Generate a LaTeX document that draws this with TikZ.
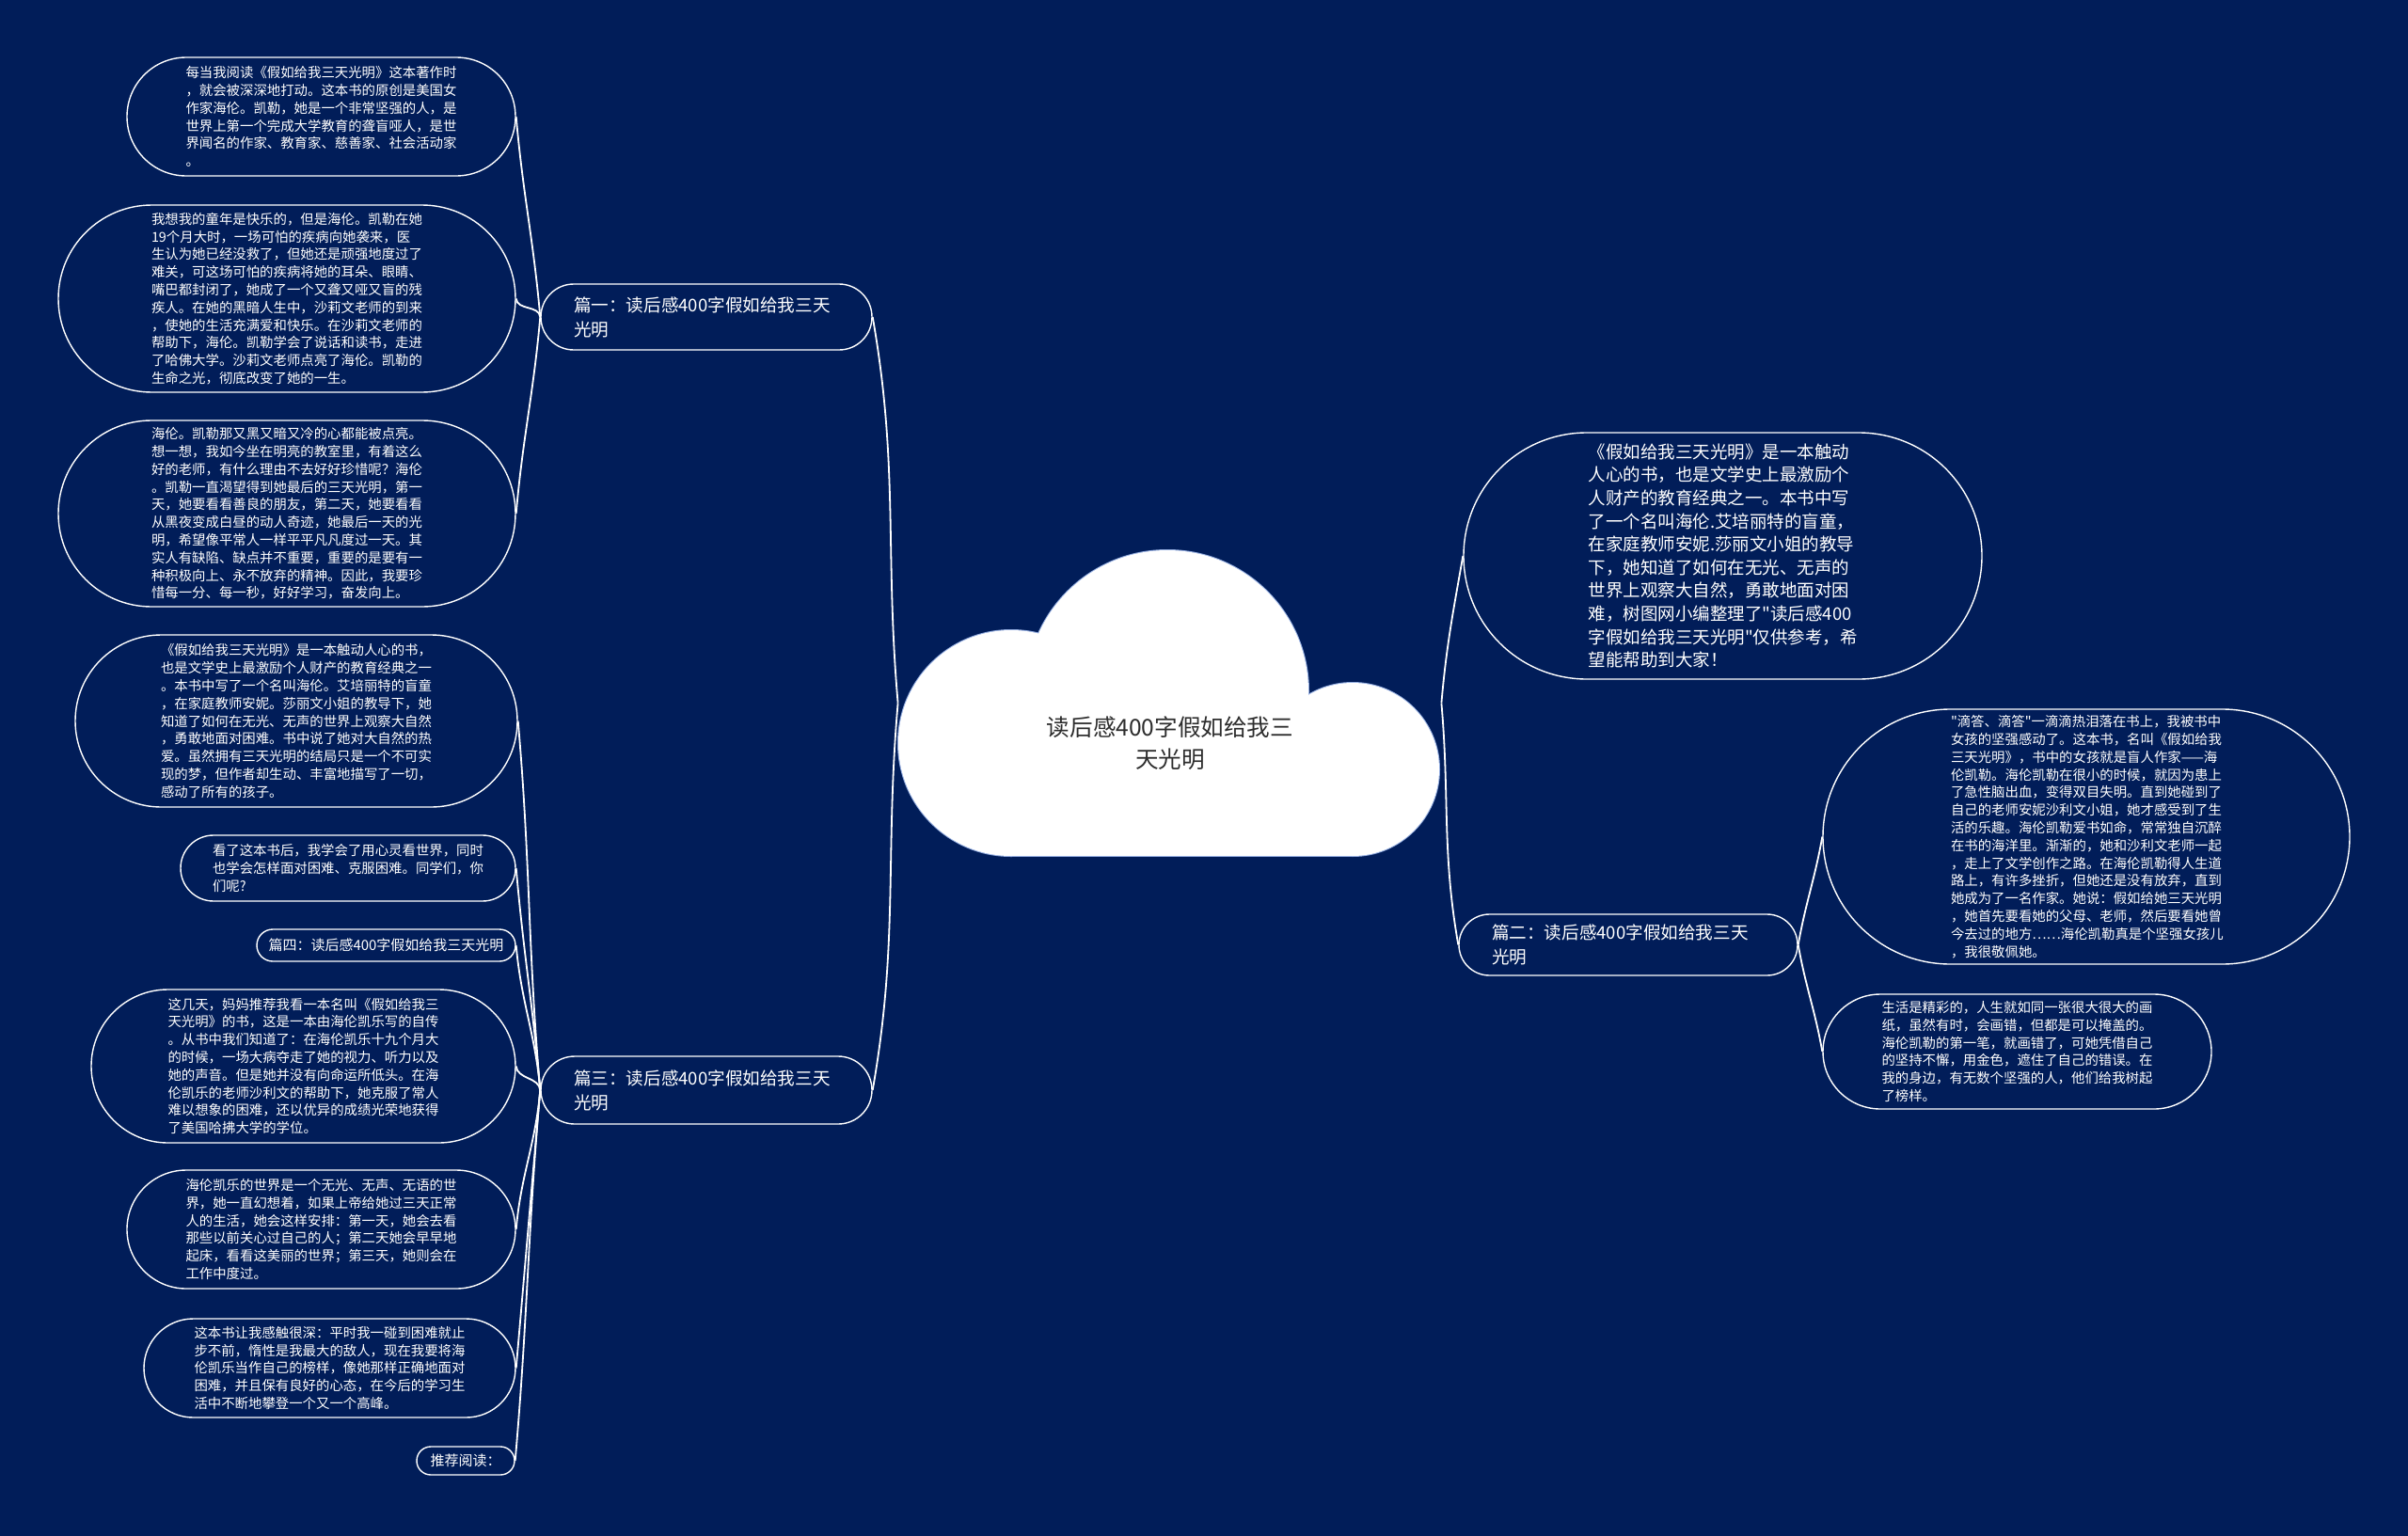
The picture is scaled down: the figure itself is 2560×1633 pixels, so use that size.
\documentclass[tikz,border=0pt]{standalone}
\usepackage{fontspec}
\newfontfamily\mapfont{Noto Sans CJK SC}
\definecolor{mapbg}{RGB}{1,29,89}
\definecolor{cloudedge}{RGB}{150,175,225}
\definecolor{titlegray}{RGB}{45,45,45}
\tikzset{
pill/.style args={#1x#2}{minimum width=#1pt, minimum height=#2pt, rounded corners=#2pt/2-0.01pt},
mapnode/.style={draw=white, line width=0.7pt, fill=mapbg, rectangle, inner xsep=0pt, inner ysep=2pt, text=white},
mapleaf/.style={mapnode, align=left, text width=144pt, font=\mapfont\fontsize{7.2}{9.4}\selectfont},
maptag/.style={mapnode, font=\mapfont\fontsize{7.5}{9.4}\selectfont},
mapbranch/.style={mapnode, align=left, text width=141pt, font=\mapfont\fontsize{9.3}{13}\selectfont},
mapintro/.style={mapnode, align=left, text width=143pt, font=\mapfont\fontsize{9.25}{12.3}\selectfont},
maplink/.style={white, line width=0.9pt}
}
\begin{document}
\begin{tikzpicture}[x=0.5pt,y=-0.5pt]
\tikzset{
maptitle/.style={text=titlegray, align=center, font=\mapfont\fontsize{12.3}{17}\selectfont}
}
\fill[mapbg] (0,0) rectangle (2560,1633);

% cloud
\draw[cloudedge, line width=1pt] (1075,790) circle (60pt);
\draw[cloudedge, line width=1pt] (1241,735) circle (75pt);
\draw[cloudedge, line width=1pt] (1438,818) circle (46pt);
\draw[cloudedge, line width=1pt] (1075,800) rectangle (1438,910);
\fill[white] (1075,790) circle (60pt);
\fill[white] (1241,735) circle (75pt);
\fill[white] (1438,818) circle (46pt);
\fill[white] (1075,800) rectangle (1438,910);
\node[minimum width=288.5pt, minimum height=162.5pt, inner sep=0pt] (root) at (1243.5,747.5) {};
\node[maptitle] (title) at (1244,790) {读后感400字假如给我三\\天光明};

% branches
\node[mapbranch, pill=176x35] (pian1) at (751,337) {篇一：读后感400字假如给我三天\\光明};
\node[mapbranch, pill=176x36] (pian3) at (751,1159) {篇三：读后感400字假如给我三天\\光明};
\node[mapbranch, pill=180x32.5, text width=145pt] (pian2) at (1731,1004.5) {篇二：读后感400字假如给我三天\\光明};
\node[mapintro, pill=275.5x131] (intro) at (1831.5,591) {《假如给我三天光明》是一本触动\\人心的书，也是文学史上最激励个\\人财产的教育经典之一。本书中写\\了一个名叫海伦.艾培丽特的盲童，\\在家庭教师安妮.莎丽文小姐的教导\\下，她知道了如何在无光、无声的\\世界上观察大自然，勇敢地面对困\\难，树图网小编整理了"读后感400\\字假如给我三天光明"仅供参考，希\\望能帮助到大家！};

% leaves of pian1
\node[mapleaf, pill=206.5x63] (leafa) at (341.5,124) {每当我阅读《假如给我三天光明》这本著作时\\，就会被深深地打动。这本书的原创是美国女\\作家海伦。凯勒，她是一个非常坚强的人，是\\世界上第一个完成大学教育的聋盲哑人，是世\\界闻名的作家、教育家、慈善家、社会活动家\\。};
\node[mapleaf, pill=243x99.5] (leafb) at (305,317.5) {我想我的童年是快乐的，但是海伦。凯勒在她\\19个月大时，一场可怕的疾病向她袭来，医\\生认为她已经没救了，但她还是顽强地度过了\\难关，可这场可怕的疾病将她的耳朵、眼睛、\\嘴巴都封闭了，她成了一个又聋又哑又盲的残\\疾人。在她的黑暗人生中，沙莉文老师的到来\\，使她的生活充满爱和快乐。在沙莉文老师的\\帮助下，海伦。凯勒学会了说话和读书，走进\\了哈佛大学。沙莉文老师点亮了海伦。凯勒的\\生命之光，彻底改变了她的一生。};
\node[mapleaf, pill=243x99] (leafc) at (305,546) {海伦。凯勒那又黑又暗又冷的心都能被点亮。\\想一想，我如今坐在明亮的教室里，有着这么\\好的老师，有什么理由不去好好珍惜呢？海伦\\。凯勒一直渴望得到她最后的三天光明，第一\\天，她要看看善良的朋友，第二天，她要看看\\从黑夜变成白昼的动人奇迹，她最后一天的光\\明，希望像平常人一样平平凡凡度过一天。其\\实人有缺陷、缺点并不重要，重要的是要有一\\种积极向上、永不放弃的精神。因此，我要珍\\惜每一分、每一秒，好好学习，奋发向上。};

% leaves of pian3
\node[mapleaf, pill=235x91.5] (leafd) at (315,766.5) {《假如给我三天光明》是一本触动人心的书，\\也是文学史上最激励个人财产的教育经典之一\\。本书中写了一个名叫海伦。艾培丽特的盲童\\，在家庭教师安妮。莎丽文小姐的教导下，她\\知道了如何在无光、无声的世界上观察大自然\\，勇敢地面对困难。书中说了她对大自然的热\\爱。虽然拥有三天光明的结局只是一个不可实\\现的梦，但作者却生动、丰富地描写了一切，\\感动了所有的孩子。};
\node[mapleaf, pill=178x35] (leafe) at (370,923) {看了这本书后，我学会了用心灵看世界，同时\\也学会怎样面对困难、克服困难。同学们，你\\们呢?};
\node[maptag, pill=137.5x17] (leaff) at (410.5,1005) {篇四：读后感400字假如给我三天光明};
\node[mapleaf, pill=225.5x81.5] (leafg) at (322.5,1133.5) {这几天，妈妈推荐我看一本名叫《假如给我三\\天光明》的书，这是一本由海伦凯乐写的自传\\。从书中我们知道了：在海伦凯乐十九个月大\\的时候，一场大病夺走了她的视力、听力以及\\她的声音。但是她并没有向命运所低头。在海\\伦凯乐的老师沙利文的帮助下，她克服了常人\\难以想象的困难，还以优异的成绩光荣地获得\\了美国哈拂大学的学位。};
\node[mapleaf, pill=206.5x63] (leafh) at (341.5,1307) {海伦凯乐的世界是一个无光、无声、无语的世\\界，她一直幻想着，如果上帝给她过三天正常\\人的生活，她会这样安排：第一天，她会去看\\那些以前关心过自己的人；第二天她会早早地\\起床，看看这美丽的世界；第三天，她则会在\\工作中度过。};
\node[mapleaf, pill=197.5x52.5] (leafi) at (350.5,1454.5) {这本书让我感触很深：平时我一碰到困难就止\\步不前，惰性是我最大的敌人，现在我要将海\\伦凯乐当作自己的榜样，像她那样正确地面对\\困难，并且保有良好的心态，在今后的学习生\\活中不断地攀登一个又一个高峰。};
\node[maptag, pill=52x15] (leafj) at (495,1553) {推荐阅读：};

% leaves of pian2
\node[mapleaf, pill=280x135.5] (leafk) at (2218,889.5) {"滴答、滴答"一滴滴热泪落在书上，我被书中\\女孩的坚强感动了。这本书，名叫《假如给我\\三天光明》，书中的女孩就是盲人作家——海\\伦凯勒。海伦凯勒在很小的时候，就因为患上\\了急性脑出血，变得双目失明。直到她碰到了\\自己的老师安妮沙利文小姐，她才感受到了生\\活的乐趣。海伦凯勒爱书如命，常常独自沉醉\\在书的海洋里。渐渐的，她和沙利文老师一起\\，走上了文学创作之路。在海伦凯勒得人生道\\路上，有许多挫折，但她还是没有放弃，直到\\她成为了一名作家。她说：假如给她三天光明\\，她首先要看她的父母、老师，然后要看她曾\\今去过的地方……海伦凯勒真是个坚强女孩儿\\，我很敬佩她。};
\node[mapleaf, pill=206.5x61] (leafl) at (2144.5,1118) {生活是精彩的，人生就如同一张很大很大的画\\纸，虽然有时，会画错，但都是可以掩盖的。\\海伦凯勒的第一笔，就画错了，可她凭借自己\\的坚持不懈，用金色，遮住了自己的错误。在\\我的身边，有无数个坚强的人，他们给我树起\\了榜样。};

% links
\draw[maplink] (root.west) to[out=95,in=-80] (pian1.east);
\draw[maplink] (root.west) to[out=-95,in=80] (pian3.east);
\draw[maplink] (root.east) to[out=85,in=-100] (intro.west);
\draw[maplink] (root.east) to[out=-85,in=100] (pian2.west);
\foreach \leaf in {leafa,leafb} {
  \draw[maplink] (pian1.west) to[out=95,in=-85] (\leaf.east);
}
\draw[maplink] (pian1.west) to[out=-95,in=85] (leafc.east);
\foreach \leaf in {leafd,leafe,leaff,leafg} {
  \draw[maplink] (pian3.west) to[out=95,in=-85] (\leaf.east);
}
\foreach \leaf in {leafh,leafi,leafj} {
  \draw[maplink] (pian3.west) to[out=-95,in=85] (\leaf.east);
}
\draw[maplink] (pian2.east) to[out=80,in=-100] (leafk.west);
\draw[maplink] (pian2.east) to[out=-80,in=100] (leafl.west);
\end{tikzpicture}
\end{document}
